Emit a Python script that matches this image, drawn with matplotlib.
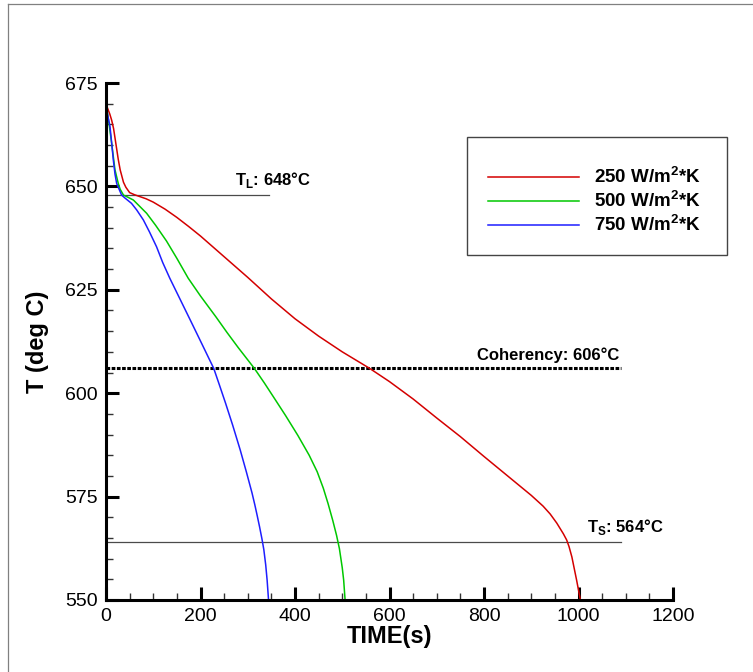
import matplotlib
matplotlib.use("Agg")
import matplotlib.pyplot as plt
from matplotlib.ticker import MultipleLocator
from matplotlib.lines import Line2D
from matplotlib.patches import Rectangle

plt.rcParams['font.family'] = ['Liberation Sans', 'DejaVu Sans']
plt.rcParams['mathtext.fontset'] = 'custom'
plt.rcParams['mathtext.rm'] = 'Liberation Sans'
plt.rcParams['mathtext.bf'] = 'Liberation Sans:bold'

# cooling curves (time s, temperature deg C)
t_250 = [0, 3, 8, 12, 16, 20, 26, 30, 37, 42, 50, 60, 70, 85, 100, 125, 150, 175,
         200, 250, 300, 350, 400, 450, 500, 558, 600, 650, 700, 750, 800, 850, 900,
         925, 940, 954, 968, 975, 980, 986, 996, 1004]
T_250 = [670, 669, 667.5, 666, 664, 661, 656.5, 654, 651, 649.8, 648.5, 648.0,
         647.6, 647.0, 646.2, 644.5, 642.5, 640.3, 638, 633, 628, 622.8, 618, 613.8,
         610, 606, 602.8, 598.6, 594, 589.5, 584.7, 580, 575.3, 572.7, 570.8, 568.6,
         566.0, 564.5, 562.9, 560.4, 554.8, 550]

t_500 = [0, 6, 12, 19, 26, 30, 37, 46, 58, 86, 105, 128, 150, 174, 200, 233, 256,
         280, 314, 335, 355, 380, 406, 430, 447, 460, 470, 480, 488, 494, 500, 503, 506]
T_500 = [670, 665.5, 660.4, 654, 650.7, 649.3, 647.9, 647.4, 646.7, 643.5, 640.6,
         636.8, 632.6, 627.8, 623.5, 618.4, 614.7, 611, 606, 602.5, 599.0, 594.6,
         589.8, 585.0, 581.0, 577.0, 573.3, 569.2, 565.6, 562.4, 557.8, 554.8, 550]

t_750 = [0, 4, 8.5, 12, 15.5, 19, 22.6, 33, 40, 54, 65, 79, 92, 107, 120, 135, 162,
         180, 203, 228, 240, 253, 268, 284, 297, 309, 315, 320, 325, 330, 334, 338,
         341, 344]
T_750 = [670, 667, 664.4, 660.5, 656.4, 653, 650.7, 647.9, 647.2, 645.9, 644.3,
         641.9, 639, 635.4, 631.6, 627.8, 621.5, 617.3, 611.9, 606, 602, 597.6, 592.3,
         586.3, 581, 575.9, 573.0, 570.4, 567.7, 564.8, 562.2, 558.5, 554.8, 550]

labels = [r'250 W/m$^\mathbf{2}$*K', r'500 W/m$^\mathbf{2}$*K', r'750 W/m$^\mathbf{2}$*K']
colors = ['#d40000', '#00c800', '#1e1eff']

# reference temperatures
ref_T = [648, 606, 564]
ref_end = [345, 1090, 1090]
ref_text = [r'T$_\mathbf{L}$: 648°C', 'Coherency: 606°C', r'T$_\mathbf{S}$: 564°C']

fig = plt.figure(figsize=(7.53, 6.72), dpi=100)
ax = fig.add_axes([106/753, 1-600/672, 567/753, 517/672])

# reference lines
ax.plot([0, ref_end[0]], [ref_T[0]]*2, color='#4a4a4a', lw=0.9)
ax.plot([0, ref_end[2]], [ref_T[2]]*2, color='#4a4a4a', lw=0.9)
ax.plot([0, ref_end[1]], [ref_T[1]]*2, color='black', lw=2.2, dashes=(1.2, 0.5))

ax.annotate(ref_text[0], (273, ref_T[0]), xytext=(0, 7), textcoords='offset points',
            ha='left', va='baseline', fontsize=12, fontweight='bold')
ax.annotate(ref_text[1], (1086, ref_T[1]), xytext=(0, 6), textcoords='offset points',
            ha='right', va='baseline', fontsize=12, fontweight='bold')
ax.annotate(ref_text[2], (1017, ref_T[2]), xytext=(0, 7), textcoords='offset points',
            ha='left', va='baseline', fontsize=12, fontweight='bold')

series = [(t_250, T_250), (t_500, T_500), (t_750, T_750)]
for (tt, TT), c in zip(series, colors):
    ax.plot(tt, TT, color=c, lw=1.1, solid_joinstyle='round')

ax.set_xlim(0, 1200)
ax.set_ylim(550, 675)
ax.xaxis.set_major_locator(MultipleLocator(200))
ax.xaxis.set_minor_locator(MultipleLocator(50))
ax.yaxis.set_major_locator(MultipleLocator(25))
ax.yaxis.set_minor_locator(MultipleLocator(5))

for s in ['top', 'right']:
    ax.spines[s].set_visible(False)
for s in ['left', 'bottom']:
    ax.spines[s].set_linewidth(2.2)
ax.tick_params(which='major', direction='in', length=9.4, width=2.2, labelsize=14, pad=6)
ax.tick_params(which='minor', direction='in', length=5, width=1.0, color='#333333')

ax.set_xlabel('TIME(s)', fontsize=17, fontweight='bold')
ax.set_ylabel('T (deg C)', fontsize=17, fontweight='bold')
ax.xaxis.set_label_coords(0.5, -0.049)
ax.yaxis.set_label_coords(-0.10, 0.5)
ax.xaxis.label.set_va('top')

# legend box (drawn in figure pixels)
W, H = 753.0, 672.0
fig.patches.append(Rectangle((466.7/W, 1-255/H), 260/W, 117.7/H, transform=fig.transFigure,
                             fill=False, edgecolor='#444444', lw=1.0))
rows = [176.7, 200.8, 225.0]
for y, c, lab in zip(rows, colors, labels):
    fig.lines.append(Line2D([488/W, 579/W], [1-y/H]*2, transform=fig.transFigure,
                            color=c, lw=1.1))
    fig.text(594/W, 1-y/H, lab, ha='left', va='center', fontsize=13.5, fontweight='bold')

# frame edges of the original picture
fig.lines.append(Line2D([8/W, 1], [1-3.5/H]*2, transform=fig.transFigure, color='#808080', lw=0.9))
fig.lines.append(Line2D([8/W]*2, [0, 1-3.5/H], transform=fig.transFigure, color='#808080', lw=0.9))

fig.savefig('out.png', dpi=100)
